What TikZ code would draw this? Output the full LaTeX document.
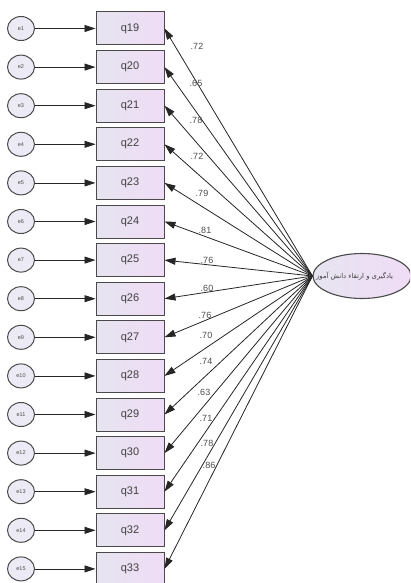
\documentclass[tikz,border=0pt]{standalone}
\usepackage{fontspec}
\setmainfont{Liberation Sans}
\newfontfamily\arabicfont[Script=Arabic]{DejaVu Sans}
\TeXXeTstate=1
\usetikzlibrary{arrows.meta,shapes.geometric}
\definecolor{edgegray}{HTML}{4A4A4A}
\definecolor{boxl}{HTML}{E6E4F0}
\definecolor{boxr}{HTML}{F0DCF6}
\definecolor{errfill}{HTML}{ECEAF4}
\tikzset{
  obsbox/.style={draw=edgegray, line width=1pt, minimum width=68pt, minimum height=33pt,
    left color=boxl, right color=boxr, font=\fontsize{11}{12}\selectfont, text=black!75, inner sep=0pt},
  errnode/.style={draw=edgegray, line width=1pt, ellipse, minimum width=27pt, minimum height=24pt,
    fill=errfill, font=\fontsize{5.5}{6}\selectfont, text=black!70, inner sep=0pt},
  latent/.style={draw=edgegray, line width=1.1pt, ellipse, minimum width=98pt, minimum height=45pt,
    left color=boxl, right color=boxr, inner sep=0pt},
  arr/.style={draw=black!85, line width=0.8pt, -{Triangle[length=11pt,width=7pt]}},
  lbl/.style={font=\fontsize{9}{10}\selectfont, text=black!70, inner sep=0pt}
}
\begin{document}
\begin{tikzpicture}[x=1pt,y=-1pt]
\useasboundingbox (0,0) rectangle (410,583);
\clip (0,0) rectangle (410,583);
\fill[white] (0,0) rectangle (410,583);
\node[latent] (F) at (362,276) {};
\node[inner sep=0pt, anchor=west, font=\fontsize{6.8}{7}\selectfont, text=black!75] (Ft) at (316,276) {\arabicfont\beginR یادگیری و ارتقاء دانش آموز\endR};
\foreach \q [count=\i from 0] in {19,...,33} {
  \pgfmathsetmacro{\yy}{28.5+38.6*\i}
  \pgfmathtruncatemacro{\e}{\i+1}
  \node[obsbox] (q\q) at (130,\yy) {q\q};
  \node[errnode] (e\e) at (21,\yy) {e\e};
  \draw[arr] (e\e) -- (q\q.west);
  \draw[arr] (F.west) -- (q\q.east);
}
\node[lbl] (l1) at (197,46) {.72};
\node[lbl] (l2) at (196,83) {.65};
\node[lbl] (l3) at (196,120) {.78};
\node[lbl] (l4) at (197,156) {.72};
\node[lbl] (l5) at (202,193) {.79};
\node[lbl] (l6) at (205,230) {.81};
\node[lbl] (l7) at (207,260) {.76};
\node[lbl] (l8) at (207,288) {.60};
\node[lbl] (l9) at (205,315) {.76};
\node[lbl] (l10) at (206,335) {.70};
\node[lbl] (l11) at (206,361) {.74};
\node[lbl] (l12) at (204,392) {.63};
\node[lbl] (l13) at (206,418) {.71};
\node[lbl] (l14) at (207,443) {.78};
\node[lbl] (l15) at (209,465) {.86};
\end{tikzpicture}
\end{document}
